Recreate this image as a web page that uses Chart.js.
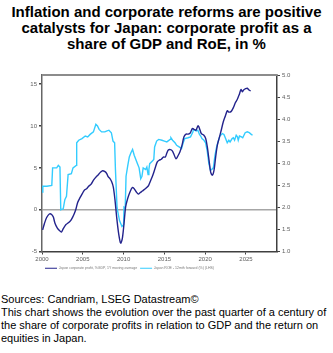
<!DOCTYPE html>
<html>
<head>
<meta charset="utf-8">
<script src="https://cdn.jsdelivr.net/npm/chart.js@4/dist/chart.umd.min.js"></script>
<style>
  body { margin: 0; width: 333px; height: 353px; background: #fff; font-family: "Liberation Sans", Arial, sans-serif; position: relative; overflow: hidden; }
  #title { position: absolute; top: 4px; left: 0; width: 333px; text-align: center; font-weight: bold; font-size: 15px; line-height: 16px; color: #000; }
  #wrap { position: absolute; top: 60px; left: 0; width: 333px; height: 228px; }
  #note { position: absolute; top: 293px; left: 1px; width: 332px; font-size: 11px; line-height: 13px; color: #000; }
</style>
</head>
<body>
<div id="title">Inflation and corporate reforms are positive<br>catalysts for Japan: corporate profit as a<br>share of GDP and RoE, in %</div>
<div id="wrap"><canvas id="chart"></canvas></div>
<div id="note">Sources: Candriam, LSEG Datastream©<br>This chart shows the evolution over the past quarter of a century of the share of corporate profits in relation to GDP and the return on equities in Japan.</div>
<script>
/* series labels */
var profitLabel = 'Japan corporate profit, %GDP, 1Y moving average';
var roeLabel = 'Japan ROE - 12mth forward (%) (LHS)';

/* corporate profit, % of GDP (right axis) */
var profitYears = [2000.08, 2000.29, 2000.57, 2000.90, 2001.18, 2001.39, 2001.59, 2001.88, 2002.12, 2002.37,
  2002.61, 2002.94, 2003.23, 2003.51, 2003.76, 2004.00, 2004.17, 2004.37, 2004.66, 2004.94,
  2005.19, 2005.47, 2005.72, 2006.00, 2006.29, 2006.58, 2006.90, 2007.19, 2007.43, 2007.72,
  2007.92, 2008.13, 2008.33, 2008.54, 2008.74, 2008.95, 2009.15, 2009.40, 2009.64, 2009.84,
  2010.05, 2010.25, 2010.50, 2010.78, 2011.07, 2011.27, 2011.52, 2011.81, 2012.01, 2012.30,
  2012.58, 2012.83, 2013.07, 2013.32, 2013.60, 2013.85, 2014.13, 2014.38, 2014.62, 2014.87,
  2015.11, 2015.28, 2015.48, 2015.73, 2015.97, 2016.18, 2016.42, 2016.67, 2016.91, 2017.16,
  2017.40, 2017.65, 2017.93, 2018.18, 2018.42, 2018.63, 2018.87, 2019.12, 2019.28, 2019.53,
  2019.81, 2020.06, 2020.26, 2020.47, 2020.67, 2020.87, 2021.08, 2021.28, 2021.49, 2021.73,
  2021.94, 2022.22, 2022.47, 2022.71, 2022.88, 2023.16, 2023.45, 2023.69, 2023.94, 2024.18,
  2024.39, 2024.55, 2024.71, 2024.96, 2025.16, 2025.37, 2025.57];
var profitValues = [1.49, 1.63, 1.77, 1.85, 1.84, 1.78, 1.64, 1.53, 1.48, 1.44,
  1.52, 1.61, 1.65, 1.70, 1.78, 1.88, 1.97, 2.11, 2.22, 2.31,
  2.39, 2.42, 2.48, 2.52, 2.61, 2.68, 2.74, 2.80, 2.83, 2.81,
  2.77, 2.69, 2.65, 2.58, 2.46, 2.16, 1.78, 1.40, 1.19, 1.29,
  1.63, 2.01, 2.20, 2.35, 2.45, 2.43, 2.36, 2.30, 2.33, 2.37,
  2.41, 2.45, 2.50, 2.61, 2.74, 2.88, 3.03, 3.07, 3.09, 3.14,
  3.14, 3.22, 3.30, 3.31, 3.28, 3.20, 3.10, 3.17, 3.26, 3.41,
  3.60, 3.66, 3.66, 3.69, 3.79, 3.77, 3.75, 3.85, 3.80, 3.67,
  3.64, 3.56, 3.37, 3.07, 2.80, 2.73, 2.84, 3.14, 3.41, 3.58,
  3.73, 3.94, 4.07, 4.19, 4.16, 4.17, 4.26, 4.37, 4.45, 4.56,
  4.67, 4.62, 4.66, 4.69, 4.70, 4.66, 4.64];

/* ROE 12m forward, % (left axis) */
var roeYears = [2000.0, 2000.1, 2000.6, 2001.2, 2001.3, 2001.8, 2002.0, 2002.2, 2002.3, 2002.6,
  2002.8, 2003.0, 2003.2, 2003.6, 2003.8, 2004.2, 2004.25, 2004.5, 2004.9, 2005.3,
  2005.6, 2005.9, 2006.3, 2006.6, 2006.8, 2007.0, 2007.3, 2007.7, 2007.9, 2008.2,
  2008.5, 2008.7, 2008.9, 2009.0, 2009.2, 2009.5, 2009.8, 2010.0, 2010.05, 2010.2,
  2010.3, 2010.5, 2010.7, 2010.9, 2011.1, 2011.3, 2011.5, 2011.7, 2011.9, 2012.1,
  2012.25, 2012.4, 2012.7, 2012.85, 2013.0, 2013.1, 2013.2, 2013.5, 2013.7, 2013.8,
  2014.05, 2014.3, 2014.7, 2015.0, 2015.3, 2015.7, 2015.8, 2016.0, 2016.3, 2016.5,
  2016.8, 2017.1, 2017.3, 2017.5, 2017.9, 2018.2, 2018.5, 2018.55, 2018.9, 2019.1,
  2019.3, 2019.45, 2019.6, 2019.85, 2020.05, 2020.25, 2020.45, 2020.65, 2020.8, 2021.0,
  2021.2, 2021.4, 2021.6, 2021.8, 2022.1, 2022.3, 2022.5, 2022.7, 2022.9, 2023.05,
  2023.3, 2023.45, 2023.6, 2023.8, 2023.95, 2024.05, 2024.2, 2024.45, 2024.6, 2024.9,
  2025.15, 2025.4, 2025.65, 2025.8];
var roeValues = [2.1, 2.8, 2.8, 2.9, 5.0, 5.0, 5.3, 5.1, 0.0, 0.1,
  1.2, 1.6, 4.2, 4.3, 5.0, 5.3, 8.0, 8.3, 8.5, 8.8,
  8.7, 9.0, 9.3, 10.2, 10.0, 9.6, 9.3, 9.3, 9.4, 9.5,
  9.2, 8.2, 8.0, 4.8, 0.2, -1.3, -2.0, -1.8, 0.3, 0.2,
  4.0, 5.2, 6.3, 6.8, 7.2, 6.5, 6.0, 5.5, 5.0, 3.7,
  4.0, 5.0, 4.8, 5.1, 4.2, 4.8, 5.5, 5.8, 6.0, 7.5,
  8.2, 8.4, 8.3, 8.2, 8.1, 8.4, 8.6, 8.3, 8.0, 7.7,
  7.5, 7.3, 8.0, 8.5, 8.6, 8.7, 9.3, 9.6, 9.4, 9.5,
  9.0, 8.8, 8.5, 8.3, 8.0, 7.0, 5.5, 4.7, 4.8, 5.0,
  6.5, 7.5, 8.2, 8.8, 9.1, 9.0, 8.5, 8.0, 8.3, 8.1,
  8.5, 8.6, 8.3, 8.9, 8.7, 8.3, 8.8, 8.7, 8.6, 9.2,
  9.3, 9.2, 9.0, 8.9];

var C = {
  navy: '#23238c',
  cyan: '#33ccff',
  tick: '#606060',
  axis: '#404040',
  zero: '#a6a6a6',
  frame: '#8c8c8c',
};

function pairs(xs, ys) {
  return xs.map(function (x, i) { return { x: x, y: ys[i] }; });
}

/* gray frame line along the top of the plot */
var topFrame = {
  id: 'topFrame',
  afterDraw: function (chart) {
    var a = chart.chartArea, ctx = chart.ctx;
    ctx.save();
    ctx.strokeStyle = C.frame;
    ctx.lineWidth = 2;
    ctx.beginPath();
    ctx.moveTo(a.left, a.top);
    ctx.lineTo(a.right, a.top);
    ctx.stroke();
    ctx.restore();
  }
};

var tickFont = { family: 'Liberation Sans', size: 6 };

new Chart(document.getElementById('chart'), {
  type: 'line',
  data: {
    datasets: [
      {
        label: profitLabel,
        data: pairs(profitYears, profitValues),
        yAxisID: 'y1',
        borderColor: C.navy,
        backgroundColor: C.navy,
        borderWidth: 1.4,
        pointRadius: 0,
        tension: 0.3,
      },
      {
        label: roeLabel,
        data: pairs(roeYears, roeValues),
        yAxisID: 'y',
        borderColor: C.cyan,
        backgroundColor: C.cyan,
        borderWidth: 1.4,
        pointRadius: 0,
        tension: 0,
      },
    ],
  },
  options: {
    responsive: true,
    maintainAspectRatio: false,
    animation: false,
    layout: { padding: { top: 15, bottom: 8 } },
    scales: {
      x: {
        type: 'linear',
        min: 2000,
        max: 2028.8,
        afterFit: function (s) { s.height = 12; },
        ticks: { stepSize: 5, includeBounds: false, color: C.tick, font: tickFont, padding: 1,
                 maxRotation: 0, callback: function (v) { return String(v); } },
        grid: { drawOnChartArea: false, tickLength: 3, tickColor: C.axis },
        border: { color: C.axis, width: 1.5 },
      },
      y: {
        position: 'left',
        min: -5,
        max: 16.1,
        afterFit: function (s) { s.width = 42; },
        ticks: { stepSize: 5, includeBounds: false, color: C.tick, font: tickFont, padding: 2 },
        grid: {
          color: function (c) { return c.tick && c.tick.value === 0 ? C.zero : 'rgba(0,0,0,0)'; },
          lineWidth: 1.5,
          tickLength: 3,
          tickColor: C.axis,
        },
        border: { color: '#666666', width: 1.5 },
      },
      y1: {
        position: 'right',
        min: 1,
        max: 5,
        afterFit: function (s) { s.width = 56; },
        ticks: { stepSize: 0.5, color: C.tick, font: tickFont, padding: 2,
                 callback: function (v) { return v.toFixed(1); } },
        grid: { drawOnChartArea: false, tickLength: 3, tickColor: C.axis },
        border: { color: C.axis, width: 1.5 },
      },
    },
    plugins: {
      legend: {
        position: 'bottom',
        align: 'start',
        fullSize: false,
        labels: {
          boxWidth: 12, boxHeight: 1.2, padding: 3, color: '#777777',
          font: { family: 'Liberation Sans', size: 3.5 },
          generateLabels: function (chart) {
            var items = Chart.defaults.plugins.legend.labels.generateLabels(chart);
            items.forEach(function (it) { it.lineWidth = 0; });
            return items;
          },
        },
      },
      tooltip: { enabled: false },
    },
  },
  plugins: [topFrame],
});
</script>
</body>
</html>
